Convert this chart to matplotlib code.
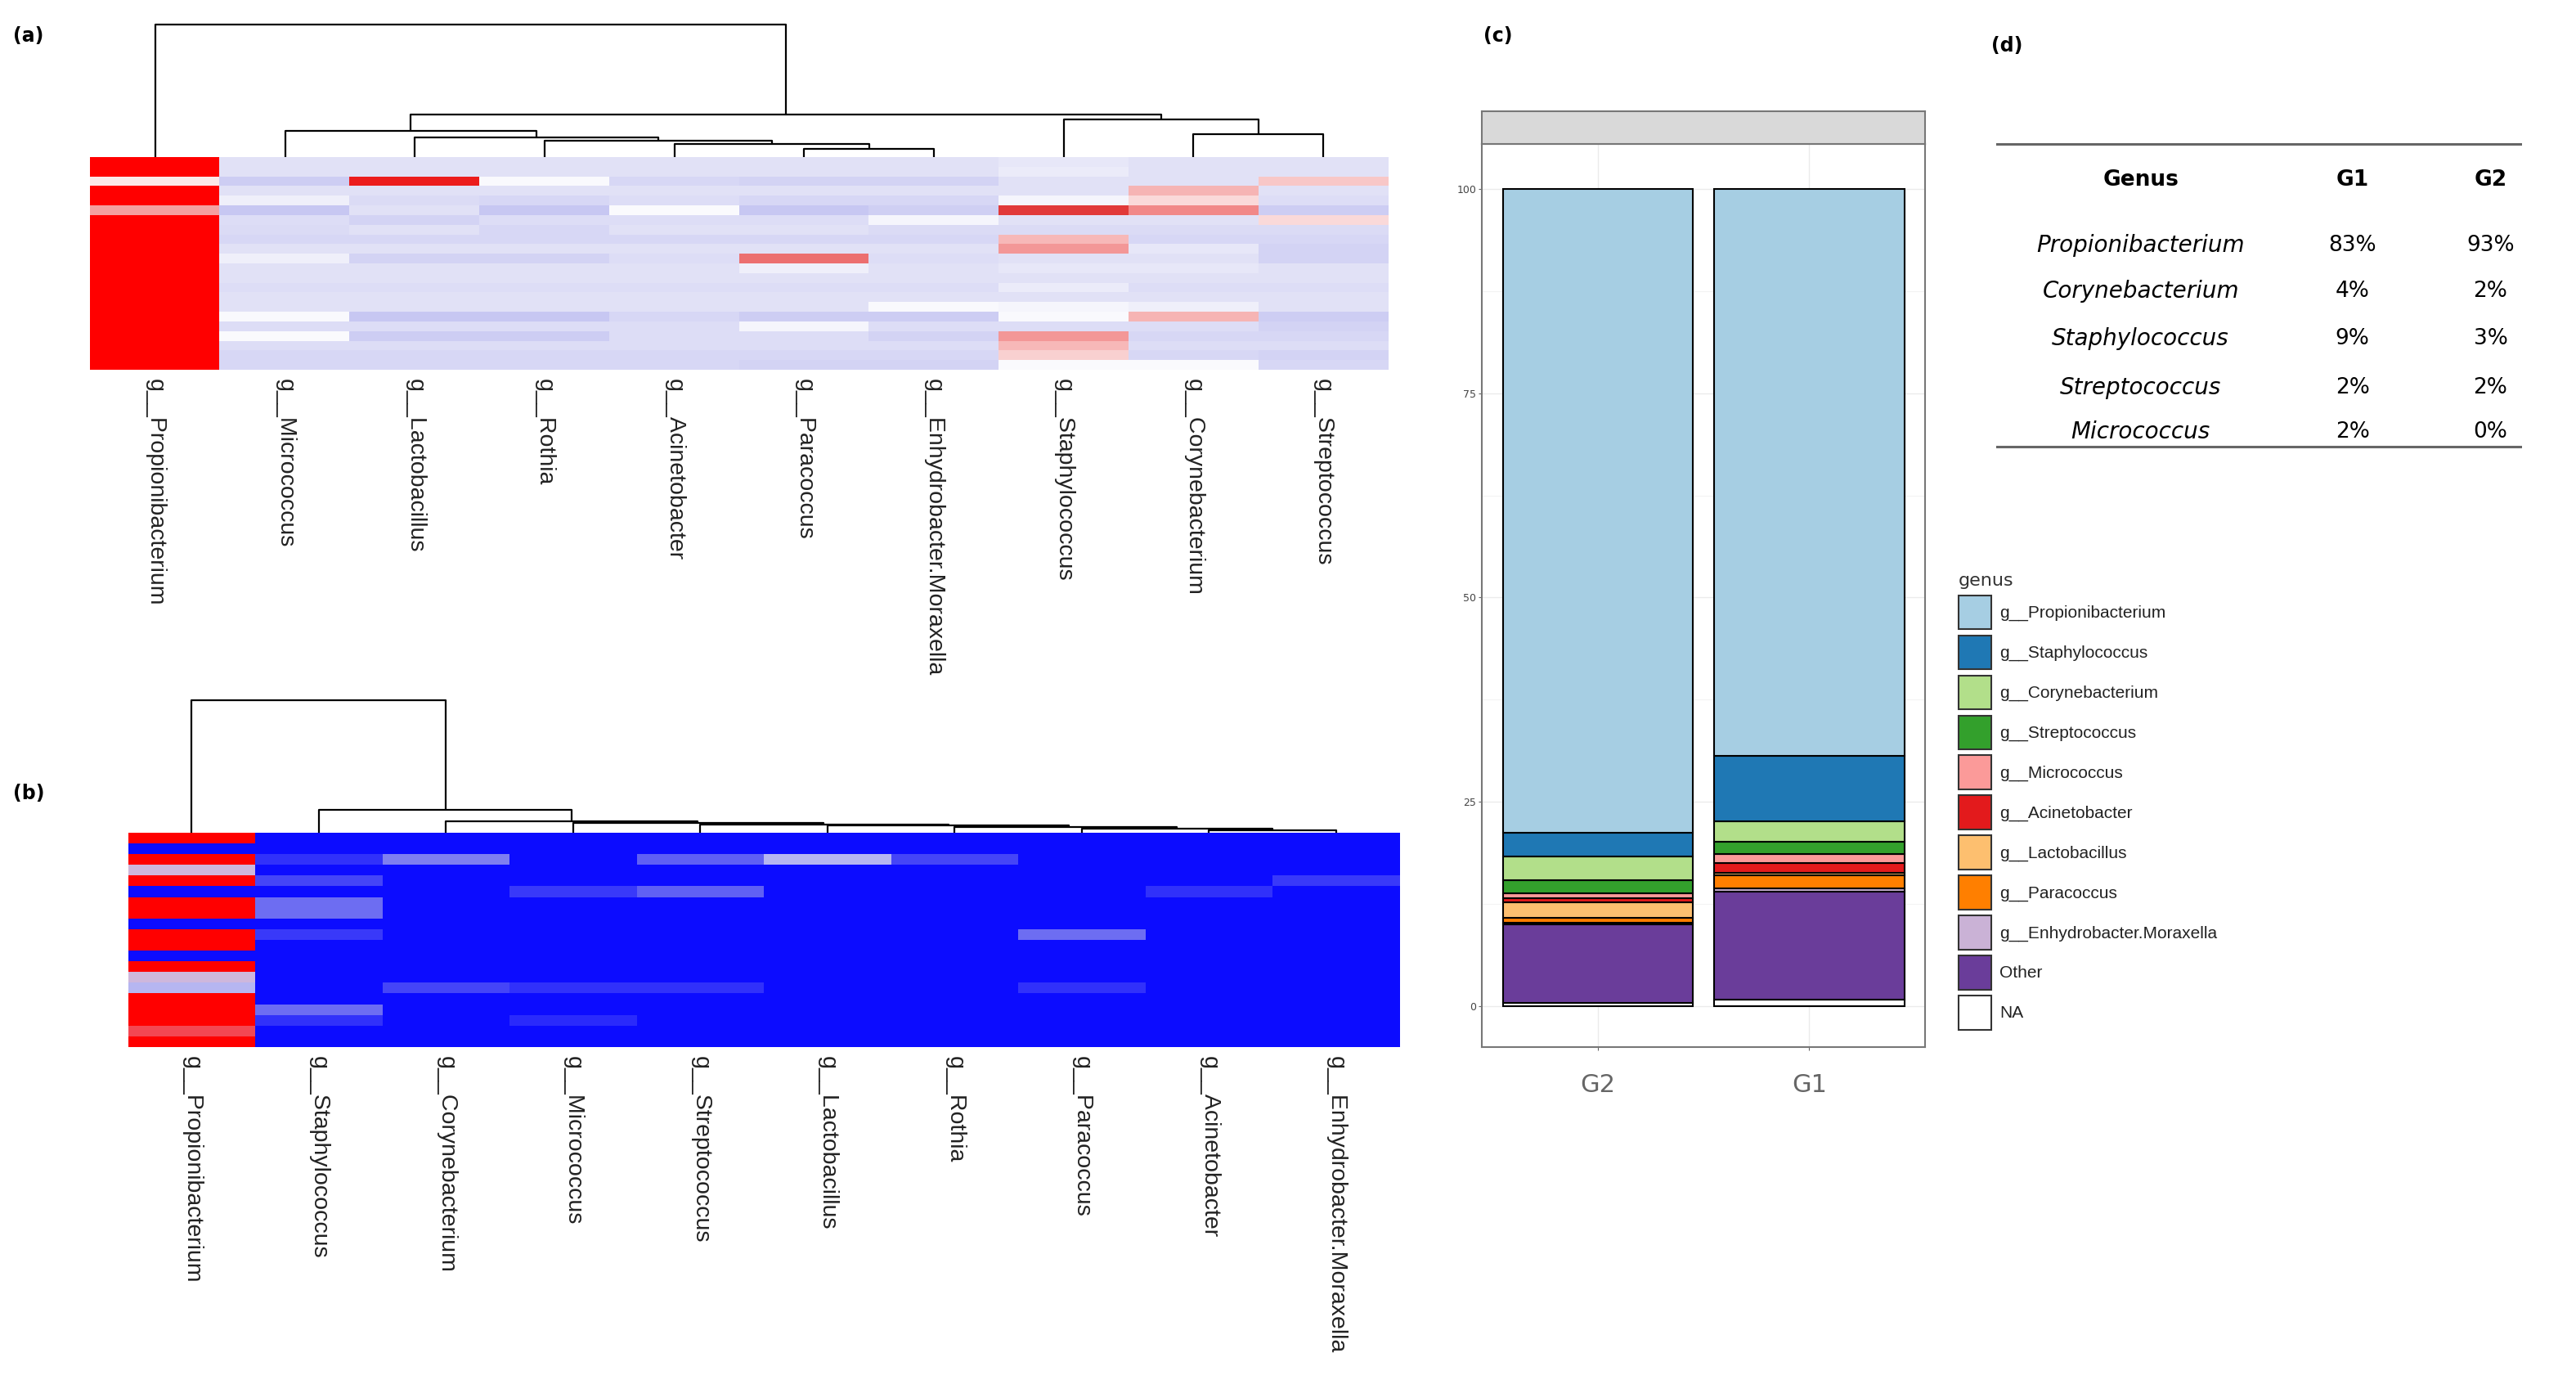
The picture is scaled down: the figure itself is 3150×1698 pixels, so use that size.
import numpy as np
import matplotlib
matplotlib.use("Agg")
import matplotlib.pyplot as plt
from matplotlib.colors import LinearSegmentedColormap
from matplotlib.patches import Patch

# ---------------- data ----------------
genera_a = ["g__Propionibacterium", "g__Micrococcus", "g__Lactobacillus", "g__Rothia", "g__Acinetobacter",
            "g__Paracoccus", "g__Enhydrobacter.Moraxella", "g__Staphylococcus", "g__Corynebacterium", "g__Streptococcus"]
genera_b = ["g__Propionibacterium", "g__Staphylococcus", "g__Corynebacterium", "g__Micrococcus", "g__Streptococcus",
            "g__Lactobacillus", "g__Rothia", "g__Paracoccus", "g__Acinetobacter", "g__Enhydrobacter.Moraxella"]

# heatmap (a): rows = samples, cols = genera_a (0 blue .. 0.35 base .. 1 red)
heat_a = [
    [1.0, .35, .35, .35, .35, .35, .35, .38, .35, .35],
    [1.0, .35, .35, .35, .35, .35, .35, .40, .35, .35],
    [.55, .25, .95, .47, .30, .28, .28, .35, .35, .62],
    [1.0, .35, .35, .35, .35, .35, .35, .35, .66, .35],
    [1.0, .42, .32, .30, .33, .30, .30, .45, .58, .33],
    [.70, .22, .35, .22, .48, .22, .26, .90, .75, .25],
    [1.0, .33, .28, .33, .33, .33, .45, .35, .35, .58],
    [1.0, .32, .35, .30, .35, .35, .32, .32, .32, .32],
    [1.0, .30, .30, .30, .30, .30, .30, .65, .30, .30],
    [1.0, .35, .35, .35, .35, .35, .35, .72, .38, .28],
    [1.0, .42, .28, .28, .33, .80, .33, .35, .35, .28],
    [1.0, .35, .35, .35, .35, .42, .35, .38, .38, .35],
    [1.0, .35, .35, .35, .35, .35, .35, .35, .35, .35],
    [1.0, .33, .33, .33, .33, .33, .33, .40, .33, .33],
    [1.0, .35, .35, .35, .35, .35, .35, .35, .35, .35],
    [1.0, .35, .35, .35, .35, .35, .47, .45, .42, .35],
    [1.0, .47, .22, .22, .30, .25, .25, .47, .66, .25],
    [1.0, .33, .33, .33, .33, .45, .33, .33, .33, .28],
    [1.0, .48, .25, .25, .33, .33, .28, .72, .30, .30],
    [1.0, .33, .33, .33, .33, .33, .33, .65, .33, .33],
    [1.0, .30, .30, .30, .30, .30, .30, .60, .30, .28],
    [1.0, .30, .30, .30, .30, .28, .28, .48, .48, .30],
]

# heatmap (b): rows = samples, cols = genera_b (0 blue .. 1 red)
heat_b = [
    [1.0, 0, 0, 0, 0, 0, 0, 0, 0, 0],
    [0.0, 0, 0, 0, 0, 0, 0, 0, 0, 0],
    [1.0, .10, .30, 0, .22, .45, .15, 0, 0, 0],
    [.55, 0, 0, 0, 0, 0, 0, 0, 0, 0],
    [1.0, .15, 0, 0, 0, 0, 0, 0, 0, .12],
    [0.0, 0, 0, .12, .22, 0, 0, 0, .10, 0],
    [1.0, .25, 0, 0, 0, 0, 0, 0, 0, 0],
    [1.0, .25, 0, 0, 0, 0, 0, 0, 0, 0],
    [0.0, 0, 0, 0, 0, 0, 0, 0, 0, 0],
    [1.0, .12, 0, 0, 0, 0, 0, .25, 0, 0],
    [1.0, 0, 0, 0, 0, 0, 0, 0, 0, 0],
    [0.0, 0, 0, 0, 0, 0, 0, 0, 0, 0],
    [1.0, 0, 0, 0, 0, 0, 0, 0, 0, 0],
    [.55, 0, 0, 0, 0, 0, 0, 0, 0, 0],
    [.45, 0, .15, .10, .10, 0, 0, .10, 0, 0],
    [1.0, 0, 0, 0, 0, 0, 0, 0, 0, 0],
    [1.0, .25, 0, 0, 0, 0, 0, 0, 0, 0],
    [1.0, .10, 0, .08, 0, 0, 0, 0, 0, 0],
    [.85, 0, 0, 0, 0, 0, 0, 0, 0, 0],
    [1.0, 0, 0, 0, 0, 0, 0, 0, 0, 0],
]

# dendrogram (a): (left_x, left_h, right_x, right_h, height) in column units
dend_a = [
    (8, 0, 9, 0, 14), (7, 0, 8.5, 14, 23),
    (5, 0, 6, 0, 5), (4, 0, 5.5, 5, 8), (3, 0, 4.75, 8, 10), (2, 0, 3.875, 10, 12),
    (1, 0, 2.9375, 12, 16), (1.97, 16, 7.75, 23, 26), (0, 0, 4.86, 26, 81),
]
# dendrogram (b)
dend_b = [
    (8, 0, 9, 0, 1.5), (7, 0, 8.5, 1.5, 2.5), (6, 0, 7.75, 2.5, 3.5), (5, 0, 6.9, 3.5, 4.5),
    (4, 0, 5.95, 4.5, 5), (3, 0, 4.97, 5, 6), (2, 0, 3.98, 6, 7), (1, 0, 2.99, 7, 14), (0, 0, 2.0, 14, 81),
]

groups = ["G2", "G1"]
stack_names = ["NA", "Other", "g__Enhydrobacter.Moraxella", "g__Paracoccus", "g__Lactobacillus",
               "g__Acinetobacter", "g__Micrococcus", "g__Streptococcus", "g__Corynebacterium",
               "g__Staphylococcus", "g__Propionibacterium"]
stack_g2 = [0.4, 9.6, 0.2, 0.6, 1.9, 0.5, 0.6, 1.6, 2.9, 2.9, 78.8]
stack_g1 = [0.8, 13.2, 0.4, 1.6, 0.3, 1.2, 1.1, 1.5, 2.5, 8.0, 69.4]
stack_colors = ["#ffffff", "#6a3d9a", "#cab2d6", "#ff7f00", "#fdbf6f", "#e31a1c", "#fb9a99",
                "#33a02c", "#b2df8a", "#1f78b4", "#a6cee3"]

table_genus = ["Propionibacterium", "Corynebacterium", "Staphylococcus", "Streptococcus", "Micrococcus"]
table_g1 = ["83%", "4%", "9%", "2%", "2%"]
table_g2 = ["93%", "2%", "3%", "2%", "0%"]

# ---------------- layout helpers ----------------
W, H = 1568.0, 849.0
def rect(x0, y0, x1, y1):
    return [x0 / W, 1 - y1 / H, (x1 - x0) / W, (y1 - y0) / H]

fig = plt.figure(figsize=(31.5, 16.98), dpi=100)

cmap_a = LinearSegmentedColormap.from_list("a", [(0, "#9a9aea"), (0.35, "#e2e2f7"), (0.5, "#ffffff"),
                                                 (0.75, "#f28a8a"), (0.92, "#e03030"), (1, "#ff0000")])
cmap_b = LinearSegmentedColormap.from_list("b", [(0, "#0c0cff"), (0.3, "#8080f0"), (0.5, "#c8c8f2"),
                                                 (0.8, "#f06070"), (1, "#ff0000")])

def heat_panel(data, names, cmap, hx, dend, dtop, dend_lw):
    x0, y0, x1, y1 = hx
    axh = fig.add_axes(rect(x0, y0, x1, y1))
    axh.imshow(np.array(data), cmap=cmap, vmin=0, vmax=1, aspect="auto", interpolation="nearest")
    axh.set_xticks(range(len(names)))
    axh.set_xticklabels(names, rotation=-90, fontsize=20.5, color="#222222", va="top",
                        fontfamily="Liberation Sans")
    axh.tick_params(length=0, pad=8)
    axh.set_yticks([])
    for s in axh.spines.values():
        s.set_visible(False)
    axd = fig.add_axes(rect(x0, dtop, x1, y0))
    for lx, lh, rx, rh, h in dend:
        axd.plot([lx, lx, rx, rx], [lh, h, h, rh], color="black", lw=dend_lw, solid_capstyle="butt")
    axd.set_xlim(-0.5, len(names) - 0.5)
    axd.set_ylim(0, 82)
    axd.axis("off")

heat_panel(heat_a, genera_a, cmap_a, (55, 96, 845, 226), dend_a, 14, 1.6)
heat_panel(heat_b, genera_b, cmap_b, (78, 509, 852, 640), dend_b, 427, 1.6)

# ---------------- panel (c) ----------------
axc = fig.add_axes(rect(902, 88, 1172, 640))
x = np.arange(len(groups))
bottoms = np.zeros(2)
for name, v2, v1, col in zip(stack_names, stack_g2, stack_g1, stack_colors):
    vals = np.array([v2, v1])
    axc.bar(x, vals, bottom=bottoms, width=0.9, color=col, edgecolor="black", linewidth=1.5, zorder=3)
    bottoms += vals
axc.set_xlim(-0.55, 1.55)
axc.set_ylim(-5, 105.5)
axc.set_yticks([0, 25, 50, 75, 100])
axc.set_yticklabels(["0", "25", "50", "75", "100"], fontsize=9, color="#444444")
axc.set_xticks(x)
axc.set_xticklabels(groups, fontsize=22, color="#333333")
axc.tick_params(axis="y", length=3, pad=2, colors="#666666", labelcolor="#444444")
axc.tick_params(axis="x", length=3, colors="#666666", pad=20)
axc.grid(True, color="#ebebeb", lw=1, zorder=0)
axc.set_yticks([12.5, 37.5, 62.5, 87.5], minor=True)
axc.grid(True, which="minor", axis="y", color="#f3f3f3", lw=0.8, zorder=0)
axc.tick_params(which="minor", length=0)
for s in axc.spines.values():
    s.set_color("#777777")
    s.set_linewidth(1.5)
strip = fig.add_axes(rect(902, 68, 1172, 88))
strip.set_facecolor("#d9d9d9")
strip.set_xticks([]); strip.set_yticks([])
for s in strip.spines.values():
    s.set_color("#777777"); s.set_linewidth(1.5)

handles = [Patch(facecolor=c, edgecolor="#333333", linewidth=1.5, label=n)
           for n, c in zip(stack_names[::-1], stack_colors[::-1])]
leg = fig.legend(handles=handles, loc="upper left", bbox_to_anchor=(1188 / W, 1 - 346 / H),
                 frameon=False, title="genus", title_fontsize=16,
                 handlelength=1.9, handleheight=2.7, labelspacing=0.35, handletextpad=0.5,
                 borderaxespad=0, prop={"family": "Liberation Sans", "size": 15})
leg._legend_box.align = "left"
leg.get_title().set_color("#333333")
for t in leg.get_texts():
    t.set_color("#222222")

# ---------------- panel (d) ----------------
axt = fig.add_axes(rect(1215, 70, 1535, 290))
axt.set_xlim(1215, 1535)
axt.set_ylim(290, 70)
axt.axis("off")
axt.plot([1215, 1535], [88, 88], color="#666666", lw=2.2)
axt.plot([1215, 1535], [273, 273], color="#666666", lw=2.2)
axt.text(1303, 110, "Genus", ha="center", va="center", fontsize=19, fontweight="bold")
axt.text(1432, 110, "G1", ha="center", va="center", fontsize=19, fontweight="bold")
axt.text(1516, 110, "G2", ha="center", va="center", fontsize=19, fontweight="bold")
row_y = [150, 178, 207, 237, 264]
for g, a, b, yy in zip(table_genus, table_g1, table_g2, row_y):
    axt.text(1303, yy, g, ha="center", va="center", fontsize=20, style="italic")
    axt.text(1432, yy, a, ha="center", va="center", fontsize=19)
    axt.text(1516, yy, b, ha="center", va="center", fontsize=19)

# panel labels
for lab, px, py in [("(a)", 8, 22), ("(b)", 8, 485), ("(c)", 903, 22), ("(d)", 1212, 28)]:
    fig.text(px / W, 1 - py / H, lab, fontsize=17, fontweight="bold", va="center", ha="left")

fig.savefig("out.png", dpi=100)
